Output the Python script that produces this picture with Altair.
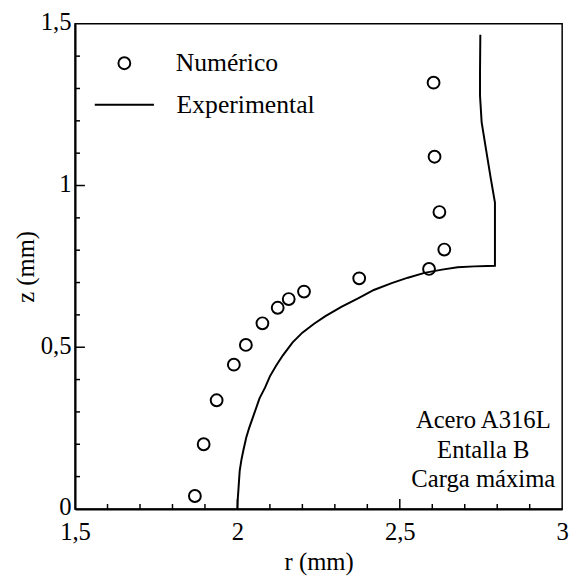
import altair as alt
import pandas as pd

# Numerical results (circles)
num_r = [1.869, 1.896, 1.936, 1.989, 2.026, 2.077, 2.124, 2.158, 2.205, 2.375, 2.590, 2.637, 2.622, 2.607, 2.604]
num_z = [0.040, 0.200, 0.336, 0.446, 0.507, 0.574, 0.622, 0.649, 0.672, 0.713, 0.742, 0.802, 0.918, 1.089, 1.318]

# Experimental profile (line)
exp_r = [2.000, 2.001, 2.003, 2.007, 2.012, 2.018, 2.027, 2.036, 2.050, 2.068, 2.085, 2.100, 2.119,
         2.140, 2.170, 2.200, 2.235, 2.271, 2.320, 2.373, 2.420, 2.475, 2.525, 2.576, 2.630,
         2.678, 2.730, 2.770, 2.793, 2.793, 2.780, 2.765, 2.752, 2.747, 2.747, 2.748]
exp_z = [0.000, 0.030, 0.058, 0.118, 0.150, 0.180, 0.220, 0.250, 0.290, 0.342, 0.375, 0.410, 0.443,
         0.475, 0.515, 0.545, 0.572, 0.596, 0.625, 0.652, 0.677, 0.698, 0.715, 0.730, 0.740,
         0.747, 0.750, 0.751, 0.752, 0.947, 1.023, 1.115, 1.196, 1.278, 1.350, 1.466]

x_major = [1.5, 2.0, 2.5, 3.0]
y_major = [0.0, 0.5, 1.0, 1.5]
x_minor = [1.6, 1.7, 1.8, 1.9, 2.1, 2.2, 2.3, 2.4, 2.6, 2.7, 2.8, 2.9]
y_minor = [0.1, 0.2, 0.3, 0.4, 0.6, 0.7, 0.8, 0.9, 1.1, 1.2, 1.3, 1.4]
x_inner_major = [2.0, 2.5]
y_inner_major = [0.5, 1.0]

annotation = ["Acero A316L", "Entalla B", "Carga máxima"]

FONT = "Liberation Serif, Times New Roman, Times, serif"
W, H = 494, 492

num_df = pd.DataFrame({"r": num_r, "z": num_z, "s": ["Numérico"] * len(num_r)})
exp_df = pd.DataFrame({"r": exp_r, "z": exp_z, "i": list(range(len(exp_r))),
                       "e": ["Experimental"] * len(exp_r)})

xs = alt.Scale(domain=[1.5, 3.0], nice=False, zero=False)
ys = alt.Scale(domain=[0.0, 1.5], nice=False, zero=False)

LBL = "replace(format(datum.value, '~g'), '.', ',')"

x_axis = alt.Axis(values=x_major, ticks=False, grid=False, domainWidth=2, domainColor="black",
                  labelExpr=LBL, labelFont=FONT, labelFontSize=25,
                  labelColor="black", labelPadding=11, labelFlush=False,
                  title="r (mm)", titleFont=FONT, titleFontSize=25, titleFontWeight="normal",
                  titleColor="black", titlePadding=5)
y_axis = alt.Axis(values=y_major, ticks=False, grid=False, domainWidth=2, domainColor="black",
                  labelExpr=LBL, labelFont=FONT, labelFontSize=25,
                  labelColor="black", labelPadding=4, labelOffset=-2, labelFlush=False,
                  title="z (mm)", titleFont=FONT, titleFontSize=25, titleFontWeight="normal",
                  titleColor="black", titlePadding=2)

points = alt.Chart(num_df).mark_point(shape="circle", filled=False, size=144, strokeWidth=2,
                                      color="black", opacity=1).encode(
    x=alt.X("r:Q", scale=xs, axis=x_axis),
    y=alt.Y("z:Q", scale=ys, axis=y_axis),
    shape=alt.Shape("s:N", scale=alt.Scale(domain=["Numérico"], range=["circle"]),
                    legend=alt.Legend(title=None, orient="none", legendX=37, legendY=27,
                                      labelFont=FONT, labelFontSize=26, labelColor="black",
                                      symbolSize=144, symbolStrokeWidth=2, symbolStrokeColor="black",
                                      symbolFillColor="white", labelOffset=39, padding=0)),
)

line = alt.Chart(exp_df).mark_line(color="black", strokeWidth=2).encode(
    x=alt.X("r:Q", scale=xs),
    y=alt.Y("z:Q", scale=ys),
    order="i:Q",
    color=alt.Color("e:N", scale=alt.Scale(domain=["Experimental"], range=["black"]),
                    legend=alt.Legend(title=None, orient="none", legendX=19, legendY=51,
                                      labelFont=FONT, labelFontSize=26, labelColor="black",
                                      symbolType="stroke", symbolSize=3600, symbolStrokeWidth=2,
                                      labelOffset=22, padding=0)),
)

tick_len_minor = 5
tick_len_major = 10

xminor = alt.Chart(pd.DataFrame({"v": x_minor})).mark_rule(color="black", strokeWidth=1.5).encode(
    x=alt.X("v:Q", scale=xs), y=alt.value(H), y2=alt.value(H - tick_len_minor))
xmajor = alt.Chart(pd.DataFrame({"v": x_inner_major})).mark_rule(color="black", strokeWidth=1.5).encode(
    x=alt.X("v:Q", scale=xs), y=alt.value(H), y2=alt.value(H - tick_len_major))
yminor = alt.Chart(pd.DataFrame({"v": y_minor})).mark_rule(color="black", strokeWidth=1.5).encode(
    y=alt.Y("v:Q", scale=ys), x=alt.value(0), x2=alt.value(tick_len_minor))
ymajor = alt.Chart(pd.DataFrame({"v": y_inner_major})).mark_rule(color="black", strokeWidth=1.5).encode(
    y=alt.Y("v:Q", scale=ys), x=alt.value(0), x2=alt.value(tick_len_major))

note = alt.Chart(pd.DataFrame({"t": [annotation]})).mark_text(
    font=FONT, fontSize=25, color="black", align="center", baseline="alphabetic", lineHeight=30
).encode(text="t", x=alt.value(414), y=alt.value(410))

chart = alt.layer(line, points, xminor, xmajor, yminor, ymajor, note).properties(
    width=W, height=H,
    autosize=alt.AutoSizeParams(type="none"),
    padding={"left": 68, "top": 12, "right": 12, "bottom": 65},
).configure_view(stroke="black", strokeWidth=1.5).resolve_legend(shape="independent", color="independent")

chart.save("out.html", embed_options={"renderer": "svg", "actions": False})
